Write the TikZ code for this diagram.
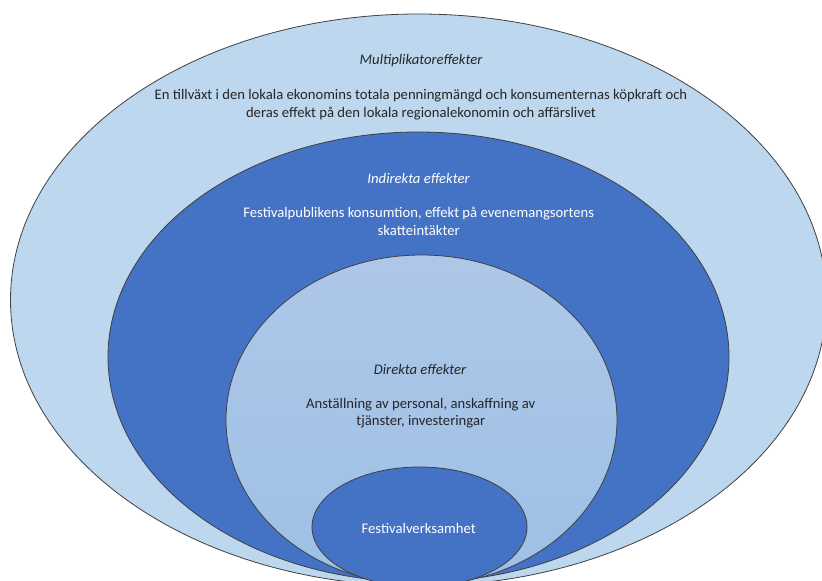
\documentclass[tikz,border=0pt]{standalone}
\usepackage{fontspec}
\setmainfont{Carlito}
\usetikzlibrary{shapes.geometric}
\definecolor{paleblue}{HTML}{BDD7EE}
\definecolor{royalblue}{HTML}{4472C4}
\definecolor{midtop}{HTML}{AEC7E8}
\definecolor{midbottom}{HTML}{9DC0E6}

\begin{document}
\begin{tikzpicture}[x=0.75pt, y=-0.75pt,
  ring/.style={shape=ellipse, draw=black!75, line width=0.6pt, inner sep=0pt},
  heading/.style={font=\fontsize{11}{13.3}\selectfont\itshape},
  body/.style={font=\fontsize{11}{13.3}\selectfont, align=center}]
\clip (0,0) rectangle (822,581);
\fill[white] (0,0) rectangle (822,581);
% rings, outermost first
\node[ring, fill=paleblue, minimum width=612pt, minimum height=429pt] (multi) at (418.5,300) {};
\node[ring, fill=royalblue, minimum width=465.75pt, minimum height=337.5pt] (indirect) at (418.5,357) {};
\node[ring, top color=midtop, bottom color=midbottom, minimum width=293.25pt, minimum height=247.5pt] (direct) at (421.5,420) {};
\node[ring, fill=royalblue, minimum width=161.25pt, minimum height=90pt] (core) at (419.5,527) {};
% labels
\node[heading, text=black!85] (multihead) at (421,61) {Multiplikatoreffekter};
\node[body, text=black!85] (multitext) at (421,104.7) {En tillväxt i den lokala ekonomins totala penningmängd och konsumenternas köpkraft och\\deras effekt på den lokala regionalekonomin och affärslivet};
\node[heading, text=white] (indirecthead) at (418.5,178.3) {Indirekta effekter};
\node[body, text=white] (indirecttext) at (418.7,221.7) {Festivalpublikens konsumtion, effekt på evenemangsortens\\skatteintäkter};
\node[heading, text=black!85] (directhead) at (420,369.3) {Direkta effekter};
\node[body, text=black!85] (directtext) at (420.8,413.3) {Anställning av personal, anskaffning av\\tjänster, investeringar};
\node[body, text=white] (coretext) at (418.7,528.3) {Festivalverksamhet};
\end{tikzpicture}
\end{document}
